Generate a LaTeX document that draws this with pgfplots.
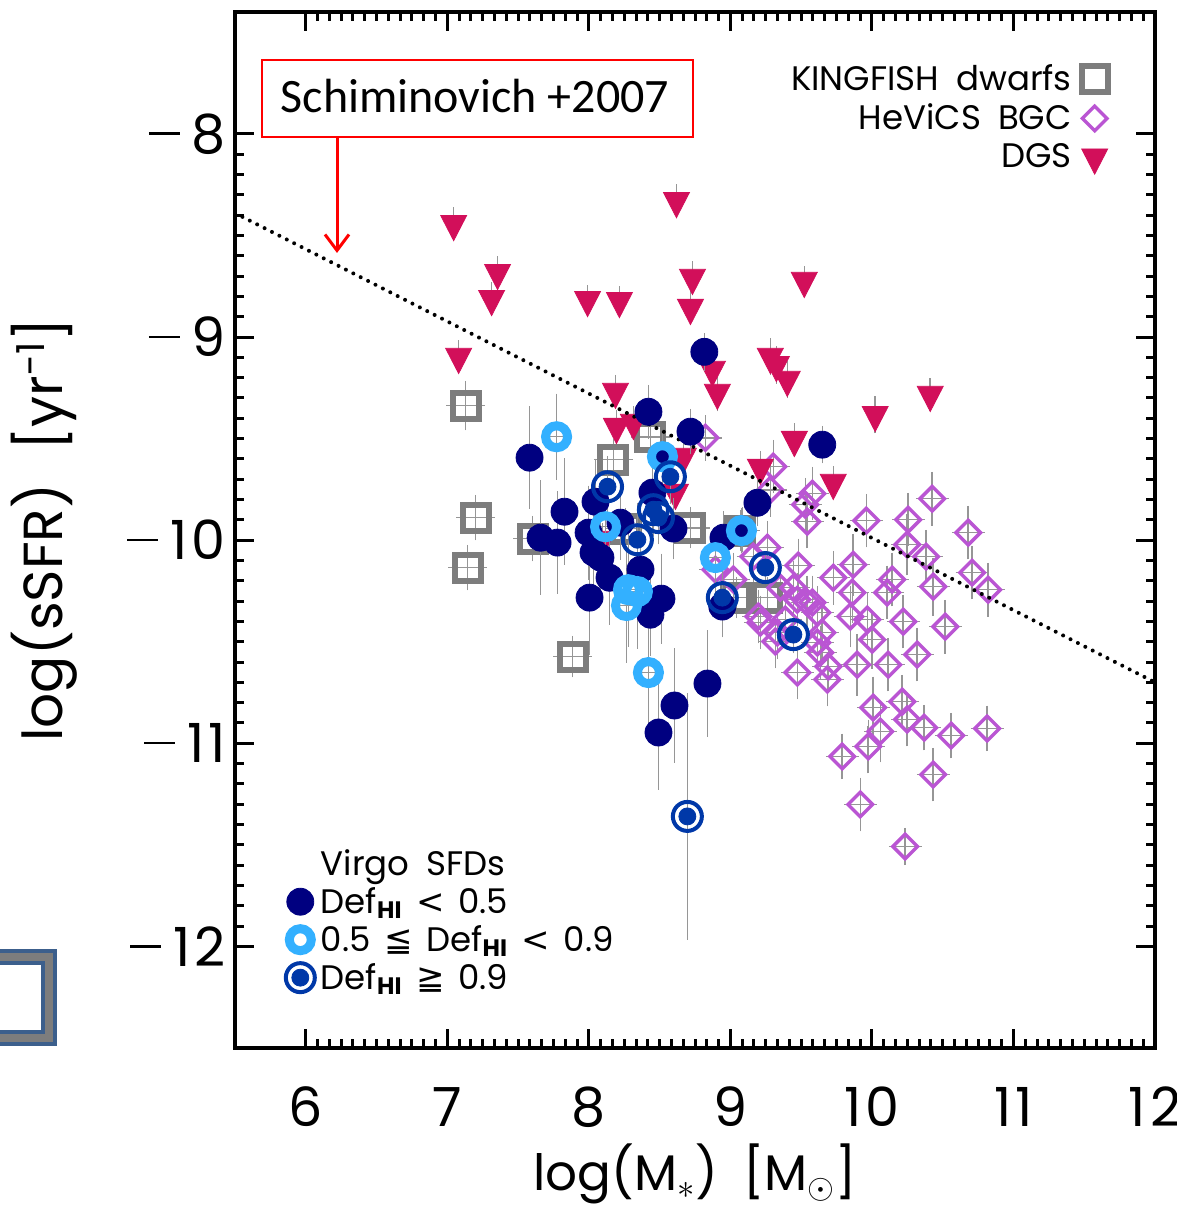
\documentclass[border=0pt]{standalone}
\usepackage{pgfplots}
\pgfplotsset{compat=1.18}
\usepackage{pgfplotstable}
\usepackage{fontspec}
\setmainfont{Poppins}
\newfontfamily\carlito{Carlito}
\newfontfamily\dejavu{DejaVu Sans}
\usetikzlibrary{arrows.meta}

\definecolor{dgsred}{RGB}{210,15,90}
\definecolor{orchidc}{RGB}{186,85,211}
\definecolor{kfgray}{RGB}{125,125,125}
\definecolor{navyc}{RGB}{0,0,128}
\definecolor{lblue}{RGB}{51,176,255}
\definecolor{bring}{RGB}{0,56,168}
\definecolor{errgray}{RGB}{150,150,150}
\definecolor{boxblue}{RGB}{60,95,140}

\newcommand{\mn}{\rule[9.3pt]{15.5pt}{1.2pt}\hspace{6pt}}

\pgfplotstableread{
x y ey
7.045 -8.443 0.05
8.619 -8.330 0.05
7.355 -8.684 0.05
7.313 -8.812 0.05
7.991 -8.817 0.04
8.216 -8.822 0.04
8.732 -8.708 0.05
8.718 -8.856 0.05
9.522 -8.723 0.04
7.080 -9.097 0.05
9.282 -9.097 0.06
9.325 -9.137 0.06
9.402 -9.210 0.06
8.873 -9.161 0.05
8.908 -9.274 0.06
8.188 -9.269 0.05
10.023 -9.383 0.06
10.412 -9.284 0.05
9.452 -9.506 0.05
9.212 -9.643 0.05
9.727 -9.717 0.05
8.195 -9.442 0.05
8.315 -9.422 0.05
8.668 -9.589 0.05
8.612 -9.766 0.05
8.096 -9.998 0.05
}\dgs

\pgfplotstableread{
x y ey
7.129 -9.338 0.09
7.200 -9.889 0.08
7.143 -10.135 0.08
7.602 -9.993 0.08
7.885 -10.573 0.07
8.174 -9.604 0.07
8.435 -9.491 0.07
8.718 -9.939 0.07
8.259 -9.943 0.07
9.071 -9.953 0.07
9.042 -10.283 0.07
9.261 -10.283 0.07
}\kf

\pgfplotstableread{
x y ey
8.823 -9.496 0.08
9.303 -9.638 0.10
9.282 -9.752 0.10
9.579 -9.771 0.10
9.529 -9.825 0.10
9.543 -9.909 0.10
10.426 -9.796 0.10
9.960 -9.904 0.10
10.256 -9.899 0.10
10.249 -10.022 0.12
10.383 -10.081 0.10
10.680 -9.963 0.10
9.261 -10.037 0.10
9.162 -10.081 0.10
9.480 -10.125 0.10
9.727 -10.185 0.10
9.868 -10.121 0.12
9.861 -10.258 0.12
10.108 -10.258 0.10
10.143 -10.194 0.10
10.433 -10.229 0.11
10.708 -10.160 0.10
10.821 -10.244 0.10
8.894 -10.145 0.10
9.021 -10.194 0.10
9.445 -10.234 0.10
9.543 -10.307 0.10
9.614 -10.357 0.10
9.649 -10.455 0.10
9.847 -10.376 0.12
9.967 -10.391 0.10
10.002 -10.490 0.11
10.221 -10.401 0.10
10.518 -10.426 0.10
9.332 -10.455 0.10
9.318 -10.499 0.10
9.198 -10.376 0.10
9.473 -10.652 0.10
9.614 -10.504 0.10
9.692 -10.622 0.10
9.685 -10.686 0.10
9.896 -10.613 0.12
10.115 -10.613 0.10
10.320 -10.563 0.10
10.009 -10.824 0.12
10.214 -10.795 0.10
10.249 -10.883 0.10
10.369 -10.923 0.08
10.560 -10.962 0.08
10.814 -10.927 0.08
10.059 -10.942 0.12
9.974 -11.016 0.10
9.790 -11.065 0.08
10.433 -11.154 0.10
9.918 -11.301 0.10
10.235 -11.508 0.06
9.388 -10.391 0.10
9.212 -10.406 0.10
9.353 -10.234 0.10
9.473 -10.293 0.10
9.579 -10.307 0.10
9.635 -10.554 0.10
}\hev

\pgfplotstableread{
x y ey
8.816 -9.073 0.06
9.649 -9.530 0.06
8.421 -9.368 0.10
8.718 -9.466 0.08
7.581 -9.594 0.22
7.828 -9.860 0.23
7.659 -9.988 0.25
7.779 -10.012 0.22
8.047 -9.811 0.18
7.998 -9.963 0.20
8.033 -10.061 0.20
8.146 -10.185 0.20
8.005 -10.283 0.25
8.223 -9.914 0.15
8.449 -9.766 0.15
8.598 -9.943 0.12
8.365 -10.145 0.20
8.513 -10.288 0.19
8.435 -10.367 0.17
8.838 -10.706 0.23
8.605 -10.814 0.25
8.492 -10.947 0.25
8.943 -10.327 0.12
8.951 -9.988 0.10
9.191 -9.816 0.08
8.520 -9.589 0.10
9.085 -9.948 0.08
8.082 -10.086 0.20
}\navy

\pgfplotstableread{
x y ey
7.772 -9.491 0.18
8.118 -9.934 0.15
8.280 -10.244 0.25
8.343 -10.253 0.25
8.266 -10.322 0.25
8.520 -9.589 0.10
8.421 -10.652 0.25
8.894 -10.086 0.12
9.078 -9.953 0.08
}\lbl

\pgfplotstableread{
x y ey
8.132 -9.737 0.12
8.576 -9.688 0.10
8.456 -9.850 0.10
8.492 -9.889 0.10
8.343 -9.998 0.15
9.247 -10.135 0.05
8.943 -10.283 0.10
9.445 -10.465 0.06
8.696 -11.360 0.575
}\bri

\pgfplotsset{
  myaxis/.style={scale only axis, width=460pt, height=518pt,
    xmin=5.5, xmax=12, ymin=-12.5, ymax=-7.4,
    at={(0pt,0pt)}, anchor=south west},
  eb/.style={error bars/.cd, y dir=both, y explicit,
    error bar style={errgray, line width=0.75pt},
    error mark options={errgray, line width=0.75pt, mark size=3.25pt},
    /pgfplots/.cd},
  ebx/.style={error bars/.cd, x dir=both, x fixed=#1, /pgfplots/.cd},
}

\begin{document}
\begin{tikzpicture}
\useasboundingbox (-117.5pt,-80pt) rectangle (470.5pt,524pt);
% stray frame at lower left
\draw[boxblue, line width=8pt] (-160pt,5pt) rectangle (-93.2pt,45.5pt);
\draw[kfgray, line width=4pt] (-160pt,5pt) rectangle (-93.2pt,45.5pt);

\begin{axis}[myaxis,
  axis line style={line width=1.6pt},
  tick style={line width=1.5pt, black},
  major tick length=9.5pt, minor tick length=4.5pt,
  xtick={6,7,8,9,10,11,12}, xticklabels={6,7,8,9,10,11,12},
  ytick={-12,-11,-10,-9,-8}, yticklabels={\mn12,\mn11,\mn10,\mn9,\mn8},
  minor x tick num=11, minor y tick num=9,
  ticklabel style={font=\fontsize{27}{30}\selectfont\addfontfeature{LetterSpace=8}},
  xticklabel style={yshift=-16pt},
  yticklabel style={xshift=-1pt},
  xlabel={log(M$_*$)\hspace{0.5em}[M$_\odot$]},
  ylabel={log(sSFR)\hspace{0.6em}[yr\textsuperscript{−1}]},
  xlabel style={font=\fontsize{25}{28}\selectfont,
    at={(axis description cs:0.5,-0.138)}, anchor=base},
  ylabel style={font=\fontsize{27.5}{30}\selectfont,
    at={(axis description cs:-0.187,0.5)}, anchor=base},
  legend style={at={(axis description cs:0.949,0.954)}, anchor=north east,
    draw=none, fill=none, inner sep=0pt, row sep=1.5pt, column sep=3pt,
    font=\fontsize{17}{19}\selectfont},
  legend cell align=right, legend plot pos=right,
]
\addplot[only marks, mark=square, mark size=6.5pt,
  mark options={kfgray, line width=3pt}, ebx=0.09, eb]
  table[x=x, y=y, y error=ey]{\kf};
\addlegendentry{KINGFISH\hspace{0.5em}dwarfs}
\addplot[only marks, mark=square, mark size=4.35pt,
  mark options={orchidc, line width=1.7pt, rotate=45}, ebx=0.07, eb]
  table[x=x, y=y, y error=ey]{\hev};
\addlegendentry{HeViCS\hspace{0.5em}BGC}
\addplot[only marks, mark=triangle*, mark size=7.5pt,
  mark options={dgsred, fill=dgsred, rotate=180, yscale=1.12}, eb]
  table[x=x, y=y, y error=ey]{\dgs};
\addlegendentry{DGS}
\end{axis}

\begin{axis}[myaxis, hide axis,
  legend style={at={(axis description cs:0.052,0.196)}, anchor=north west,
    draw=none, fill=none, inner sep=0pt, row sep=0.5pt,
    font=\fontsize{17}{19}\selectfont},
  legend cell align=left,
]
\addplot[only marks, mark=*, mark size=6.75pt,
  mark options={navyc, fill=navyc}, forget plot, eb]
  table[x=x, y=y, y error=ey]{\navy};
\addplot[only marks, mark=o, mark size=5.5pt,
  mark options={lblue, line width=4.5pt}, forget plot, ebx=0.05, eb]
  table[x=x, y=y, y error=ey]{\lbl};
\addplot[only marks, mark=o, mark size=7.25pt,
  mark options={bring, fill=white, line width=2pt}, forget plot, eb]
  table[x=x, y=y, y error=ey]{\bri};
\addplot[only marks, mark=*, mark size=4.25pt,
  mark options={bring, fill=bring}, forget plot]
  table[x=x, y=y]{\bri};
\addplot[black, line width=2pt, line cap=round,
  dash pattern=on 0pt off 4.15pt, forget plot]
  coordinates {(5.5,-8.39) (12,-10.70)};
\addlegendimage{empty legend}
\addlegendentry{Virgo\hspace{0.5em}SFDs}
\addlegendimage{only marks, mark=*, mark size=6.75pt, mark options={navyc, fill=navyc}}
\addlegendentry{Def\textsubscript{\textbf{HI}}\hspace{0.4em}{\dejavu <}\hspace{0.4em}0.5}
\addlegendimage{only marks, mark=o, mark size=5.5pt, mark options={lblue, line width=4.5pt}}
\addlegendentry{0.5\hspace{0.4em}{\dejavu ≦}\hspace{0.4em}Def\textsubscript{\textbf{HI}}\hspace{0.4em}{\dejavu <}\hspace{0.4em}0.9}
\addlegendimage{legend image code/.code={
  \draw[bring, line width=2pt, fill=white] (0.3cm,0cm) circle (7.25pt);
  \fill[bring] (0.3cm,0cm) circle (4.25pt);}}
\addlegendentry{Def\textsubscript{\textbf{HI}}\hspace{0.4em}{\dejavu ≧}\hspace{0.4em}0.9}
\end{axis}

% annotation
\draw[red, line width=1pt] (13.5pt,455.5pt) rectangle (229pt,494pt);
\node[anchor=base, inner sep=0pt, font=\carlito\fontsize{24}{28}\selectfont]
  at (120pt,467.5pt) {Schiminovich +2007};
\draw[red, line width=1.5pt, -{Straight Barb[length=8pt, width=12pt, line width=1.5pt]}]
  (51pt,455.5pt) -- (51pt,397.5pt);
\end{tikzpicture}
\end{document}
